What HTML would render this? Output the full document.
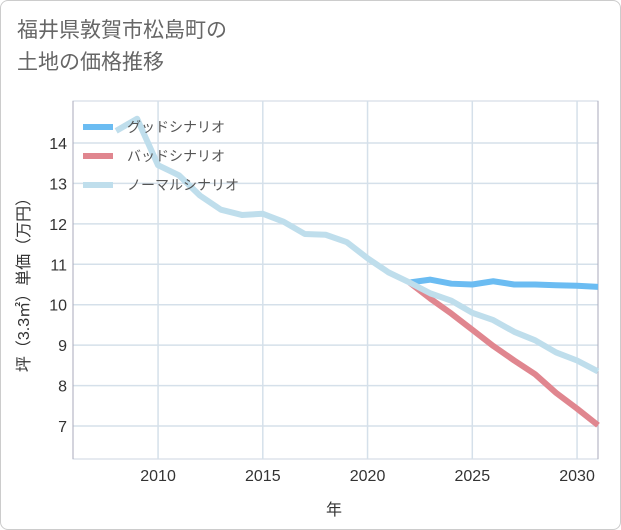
<!DOCTYPE html>
<html><head><meta charset="utf-8"><style>
body{margin:0;background:#fff;font-family:"Liberation Sans","Noto Sans CJK JP",sans-serif;}
#wrap{position:relative;width:619px;height:528px;border:1px solid #ccc;border-radius:8px;overflow:hidden;background:#fff}
#title{position:absolute;left:16px;top:14px;font-size:21px;line-height:32px;color:#666;}
svg{position:absolute;left:0;top:0}
</style></head><body>
<div id="wrap">
<div id="title">福井県敦賀市松島町の<br>土地の価格推移</div>
<svg id="chart" width="621" height="530"></svg>
</div>
<script>
const years=[2008,2009,2010,2011,2012,2013,2014,2015,2016,2017,2018,2019,2020,2021,2022,2023,2024,2025,2026,2027,2028,2029,2030,2031];
const normal=[14.3,14.6,13.45,13.2,12.7,12.35,12.22,12.25,12.05,11.75,11.73,11.55,11.15,10.8,10.55,10.28,10.1,9.8,9.62,9.33,9.12,8.82,8.62,8.35];
const goodYears=[2022,2023,2024,2025,2026,2027,2028,2029,2030,2031];
const good=[10.55,10.62,10.52,10.5,10.58,10.5,10.5,10.48,10.47,10.44];
const badYears=[2022,2023,2024,2025,2026,2027,2028,2029,2030,2031];
const bad=[10.55,10.15,9.78,9.38,8.98,8.62,8.28,7.82,7.43,7.02];
const xTicks=[2010,2015,2020,2025,2030];
const yTicks=[7,8,9,10,11,12,13,14];
const L=72,R=597,T=100,B=458;
const x=v=>L+(v-2005.94)/(2031-2005.94)*(R-L);
const y=v=>425-(v-7)*40.43;
const svg=document.getElementById('chart');
const NS='http://www.w3.org/2000/svg';
function mk(t,a){const e=document.createElementNS(NS,t);for(const k in a)e.setAttribute(k,a[k]);svg.appendChild(e);return e;}
const bg=mk('rect',{x:L,y:T,width:R-L,height:B-T,fill:'#fff',stroke:'#ccd6e0'});


for(const v of yTicks){
 const g=mk('line',{x1:L,x2:R,y1:y(v),y2:y(v),stroke:'#d5e0ea','stroke-width':1.5});
 
 
 const t=mk('text',{x:L-6,y:y(v)+6,'text-anchor':'end','font-size':16,fill:'#333'});t.textContent=v;
 
 
}
for(const v of xTicks){
 const g=mk('line',{x1:x(v),x2:x(v),y1:T,y2:B,stroke:'#d5e0ea','stroke-width':1.5});
 
 
 const t=mk('text',{x:x(v),y:B+22,'text-anchor':'middle','font-size':16,fill:'#333'});t.textContent=v;
 
 
}
const ax=mk('line',{x1:L,x2:L,y1:T,y2:B,stroke:'#aab','stroke-width':1});


const ax2=mk('line',{x1:R,x2:R,y1:T,y2:B,stroke:'#aab','stroke-width':1});


function line(xs,vs,c,n){const p=mk('polyline',{points:xs.map((a,i)=>x(a)+','+y(vs[i])).join(' '),fill:'none',stroke:c,'stroke-width':6,'stroke-linejoin':'round'});
 
 }
line(goodYears,good,'#6bbcf2','good-scenario-line');
line(badYears,bad,'#e0868f','bad-scenario-line');
line(years,normal,'#bfdeec','normal-scenario-line');
const leg=[['グッドシナリオ','#6bbcf2',126],['バッドシナリオ','#e0868f',155],['ノーマルシナリオ','#bfdeec',184]];
for(const [n,c,yy] of leg){
 const s=mk('line',{x1:82,x2:112,y1:yy,y2:yy,stroke:c,'stroke-width':6});
 
 
 const t=mk('text',{x:126,y:yy+5,'font-size':14,fill:'#555'});t.textContent=n;
 
 
}
const xt=mk('text',{x:333,y:514,'text-anchor':'middle','font-size':16,fill:'#333'});xt.textContent='年';


const yt=mk('text',{x:0,y:0,transform:'translate(28,280) rotate(-90)','text-anchor':'middle','font-size':16,fill:'#333'});yt.textContent='坪（3.3㎡）単価（万円）';


</script>
</body></html>
